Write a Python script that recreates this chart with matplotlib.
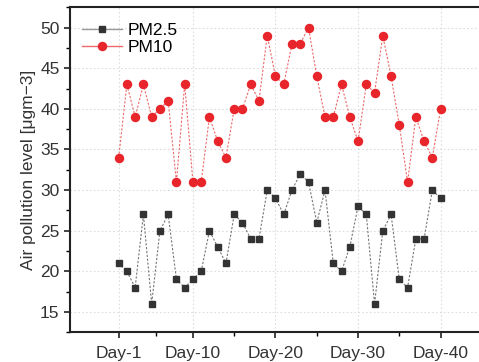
import matplotlib.pyplot as plt
from matplotlib.lines import Line2D
from matplotlib.ticker import MultipleLocator, FixedLocator

plt.rcParams['font.family'] = ['Liberation Sans', 'DejaVu Sans']

# data
days = list(range(1, 41))
pm25 = [21, 20, 18, 27, 16, 25, 27, 19, 18, 19,
        20, 25, 23, 21, 27, 26, 24, 24, 30, 29,
        27, 30, 32, 31, 26, 30, 21, 20, 23, 28,
        27, 16, 25, 27, 19, 18, 24, 24, 30, 29]
pm10 = [34, 43, 39, 43, 39, 40, 41, 31, 43, 31,
        31, 39, 36, 34, 40, 40, 43, 41, 49, 44,
        43, 48, 48, 50, 44, 39, 39, 43, 39, 36,
        43, 42, 49, 44, 38, 31, 39, 36, 34, 40]
tick_days = [1, 10, 20, 30, 40]
tick_labels = ['Day-1', 'Day-10', 'Day-20', 'Day-30', 'Day-40']

fig = plt.figure(figsize=(4.79, 3.62), dpi=100)
ax = fig.add_axes([0.146, 0.082, 0.86, 0.898])

gray = '#333333'
red = '#e8252a'

ax.plot(days, pm25, color='#777777', linestyle=(0, (2, 1.5)), linewidth=0.8,
        marker='s', markersize=5, markerfacecolor=gray, markeredgecolor=gray, zorder=3)
ax.plot(days, pm10, color='#ec6a6c', linestyle=(0, (2, 1.5)), linewidth=0.8,
        marker='o', markersize=5.8, markerfacecolor=red, markeredgecolor=red, zorder=3)

ax.set_xlim(-4.9, 45)
ax.set_ylim(12.5, 52.5)
ax.xaxis.set_major_locator(FixedLocator(tick_days))
ax.xaxis.set_minor_locator(FixedLocator([5.5, 15, 25, 35]))
ax.set_xticklabels(tick_labels)
ax.yaxis.set_major_locator(MultipleLocator(5))
ax.yaxis.set_minor_locator(MultipleLocator(2.5))
ax.set_yticks(range(15, 55, 5))

ax.grid(True, which='major', linestyle=(0, (1.5, 2)), color='#dddddd', linewidth=0.8)
ax.tick_params(which='major', direction='out', length=4, width=1.2, labelsize=12.5,
               colors='#222222', labelcolor='#333333')
ax.tick_params(which='minor', direction='out', length=3, width=1.0)
ax.tick_params(axis='x', pad=6)
for side in ['left', 'bottom', 'top']:
    ax.spines[side].set_linewidth(1.5)
    ax.spines[side].set_color('#222222')
ax.spines['right'].set_visible(False)

ax.set_ylabel('Air pollution level [μgm\u22123]', fontsize=12.5, color='#333333', labelpad=3)

handles = [
    Line2D([], [], color='#999999', linewidth=1, marker='s', markersize=5,
           markerfacecolor=gray, markeredgecolor=gray),
    Line2D([], [], color='#ec6a6c', linewidth=1, marker='o', markersize=5.8,
           markerfacecolor=red, markeredgecolor=red),
]
ax.legend(handles, ['PM2.5', 'PM10'], loc='upper left', frameon=False,
          fontsize=12.5, handlelength=2.3, handletextpad=0.3, labelspacing=0.1,
          borderaxespad=0.3, bbox_to_anchor=(0.0, 0.99))

fig.savefig('out.png', dpi=100)
